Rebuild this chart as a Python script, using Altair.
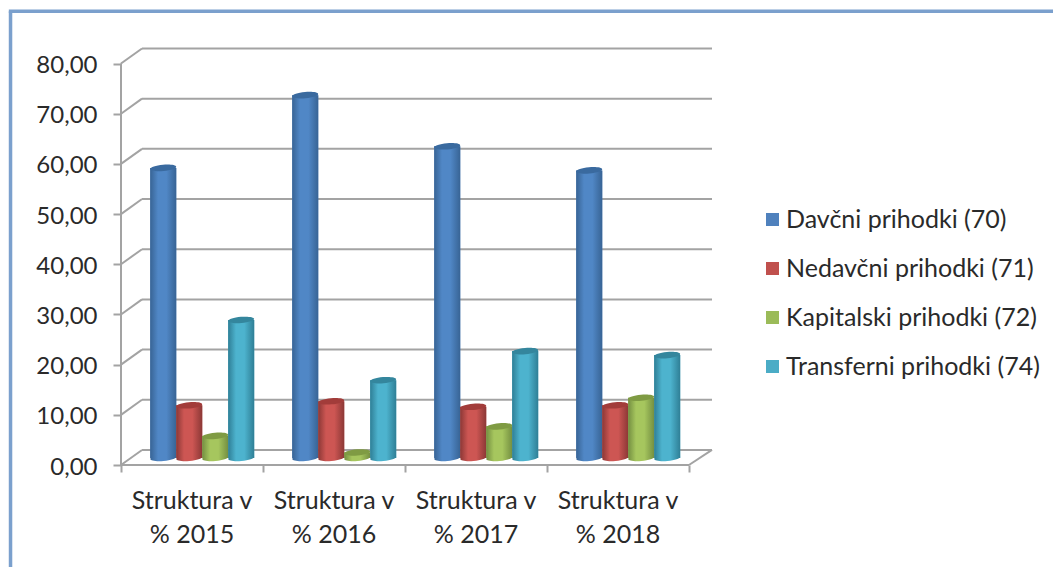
import altair as alt
import pandas as pd

# ---- chart values ----
years = ["Struktura v\n% 2015", "Struktura v\n% 2016", "Struktura v\n% 2017", "Struktura v\n% 2018"]
series = ["Davčni prihodki (70)", "Nedavčni prihodki (71)", "Kapitalski prihodki (72)", "Transferni prihodki (74)"]
davcni = [57.8, 72.3, 62.1, 57.3]
nedavcni = [10.5, 11.3, 10.2, 10.5]
kapitalski = [4.4, 1.1, 6.3, 12.0]
transferni = [27.5, 15.5, 21.3, 20.5]
y_ticks = [0, 10, 20, 30, 40, 50, 60, 70, 80]
x_ticks = [0, 1, 2, 3, 4]

# ---- styling ----
FONT = "Lato"
TXT = "#2a2a2a"
GRID = "#a3a3a3"
FRAME = "#7ba0cd"
flat = ["#4f81bd", "#c0504d", "#9bbb59", "#4bacc6"]
edge = ["#386495", "#8c3836", "#748f41", "#2f7f96"]
mid = ["#5087c6", "#cd5653", "#a6c65e", "#4db3ce"]
lid = ["#3a6a9f", "#a23c3a", "#7f9b43", "#34869d"]

# depth of the pseudo-3D box, in axis units
DX, DY = 0.148, 3.0
XMAX, YMAX = 4.162, 83.09
BASE = 1.4           # the bars stand in the middle of the floor
BAR_W = 0.183
BAR_START = 0.206
ELLIPSE = "M-1,0 A1,0.24 0 1,1 1,0 A1,0.24 0 1,1 -1,0 Z"

x_scale = alt.Scale(domain=[0, XMAX], nice=False, zero=False)
y_scale = alt.Scale(domain=[0, YMAX], nice=False, zero=False)
x_axis = alt.Axis(values=x_ticks, labels=False, domain=False, grid=False, tickSize=7,
                  tickColor=GRID, tickWidth=2)
y_axis = alt.Axis(values=y_ticks, domain=False, grid=False, tickSize=8, tickColor=GRID,
                  tickWidth=2, labelFont=FONT, labelFontSize=24, labelColor=TXT, labelPadding=16,
                  labelOffset=2,
                  labelExpr="replace(format(datum.value, '.2f'), '.', ',')")

rows = []
for i, vals in enumerate(zip(davcni, nedavcni, kapitalski, transferni)):
    for j, v in enumerate(vals):
        left = i + BAR_START + j * BAR_W
        rows.append(dict(series=series[j], sidx=j, value=v, left=left, right=left + BAR_W,
                         center=left + BAR_W / 2, base=BASE, top=v + BASE))
bars = pd.DataFrame(rows)

lines = []
for v in y_ticks:
    lines.append(dict(x0=DX, x1=XMAX, y0=v + DY, y1=v + DY))   # back wall
    lines.append(dict(x0=0, x1=DX, y0=v, y1=v + DY))           # side wall
lines.append(dict(x0=0, x1=0, y0=0, y1=80))                    # value axis line
lines.append(dict(x0=0, x1=4, y0=0, y1=0))                     # floor front
lines.append(dict(x0=4, x1=XMAX, y0=0, y1=DY))                 # floor right
lines = pd.DataFrame(lines)

frame = pd.DataFrame([
    dict(x0=-0.778, x1=-0.778, y0=-21, y1=90.4),
    dict(x0=-0.79, x1=6.7, y0=90.4, y1=90.4),
])

labels = pd.DataFrame({"label": years, "pos": [i + 0.5 for i in range(4)], "ypos": [-7.2] * 4})


def X(f):
    return alt.X(f, type="quantitative", scale=x_scale, title=None, axis=x_axis)


def Y(f):
    return alt.Y(f, type="quantitative", scale=y_scale, title=None, axis=y_axis)


frame_layer = alt.Chart(frame).mark_rule(color=FRAME, strokeWidth=3.5).encode(
    x=X("x0"), x2="x1", y=Y("y0"), y2="y1")

grid_layer = alt.Chart(lines).mark_rule(color=GRID, strokeWidth=2).encode(
    x=X("x0"), x2="x1", y=Y("y0"), y2="y1")

legend_layer = alt.Chart(bars).mark_bar().encode(
    x=X("left"), x2="right",
    y=Y("base"), y2="top",
    color=alt.Color("series:N", scale=alt.Scale(domain=series, range=flat),
                    legend=alt.Legend(title=None, orient="none", legendX=639, legendY=159,
                                      symbolType="square", symbolSize=169, symbolStrokeWidth=0,
                                      labelFont=FONT, labelFontSize=25, labelColor=TXT,
                                      rowPadding=23, labelOffset=1, labelLimit=400)),
)

layers = [grid_layer, frame_layer, legend_layer]
for j in range(4):
    sub = bars[bars.sidx == j]
    grad = alt.Gradient(gradient="linear", x1=0, x2=1, y1=0, y2=0, stops=[
        alt.GradientStop(color=edge[j], offset=0),
        alt.GradientStop(color=mid[j], offset=0.3),
        alt.GradientStop(color=mid[j], offset=0.62),
        alt.GradientStop(color=edge[j], offset=1),
    ])
    layers.append(alt.Chart(sub).mark_point(filled=True, fill=grad, opacity=1, shape=ELLIPSE, size=676,
                                            angle=355, strokeWidth=0).encode(
        x=X("center"), y=Y("base")))
    layers.append(alt.Chart(sub).mark_bar(fill=grad).encode(
        x=X("left"), x2="right", y=Y("base"), y2="top"))
    layers.append(alt.Chart(sub).mark_point(filled=True, fill=lid[j], opacity=1, shape=ELLIPSE, size=676,
                                            angle=355, strokeWidth=0).encode(
        x=X("center"), y=Y("top")))

text_layer = alt.Chart(labels).mark_text(font=FONT, fontSize=25, color=TXT, lineBreak="\n", lineHeight=34,
                                         baseline="middle", align="center").encode(
    x=X("pos"), y=Y("ypos"), text="label:N")
layers.append(text_layer)

chart = alt.layer(*layers).properties(
    width=591, height=417,
    padding={"left": 113, "top": 40, "right": 341, "bottom": 102},
    autosize=alt.AutoSizeParams(type="none"),
    background="white",
).configure_view(stroke=None)

chart.save("out.html", embed_options={"renderer": "svg", "actions": False})
